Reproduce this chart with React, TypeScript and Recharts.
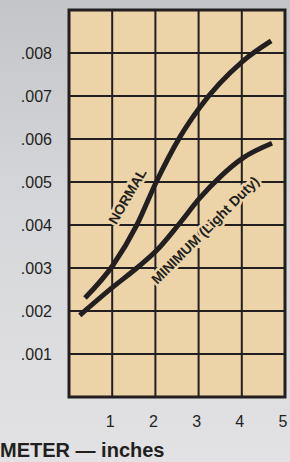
import React from 'react';
import { ComposedChart, Line, XAxis, YAxis, CartesianGrid, ReferenceArea, ReferenceDot } from 'recharts';

const normalX = [0.37, 1.02, 1.57, 2.02, 2.57, 3.03, 4.0, 4.68];
const normalY = [0.0023, 0.00307, 0.004, 0.005, 0.00605, 0.00674, 0.00779, 0.00828];

const minimumX = [0.25, 1.02, 1.57, 2.02, 2.53, 3.03, 3.5, 4.03, 4.7];
const minimumY = [0.0019, 0.00256, 0.003, 0.0034, 0.004, 0.00463, 0.00512, 0.00556, 0.0059];

const xTicks = [0, 1, 2, 3, 4, 5];
const yTicks = [0, 0.001, 0.002, 0.003, 0.004, 0.005, 0.006, 0.007, 0.008, 0.009];

const normal = normalX.map((x, i) => ({ x, y: normalY[i] }));
const minimum = minimumX.map((x, i) => ({ x, y: minimumY[i] }));

const ink = '#231f20';
const tan = '#EDD3A8';
const font = '"Liberation Sans", Arial, sans-serif';

// rotated label with a tan halo so gridlines break around it
const curveLabel = (text: string, angle: number) => (props: any) => {
    const { viewBox } = props;
    const cx = viewBox.x + (viewBox.width || 0) / 2;
    const cy = viewBox.y + (viewBox.height || 0) / 2;
    return (
        <text
            x={cx}
            y={cy}
            transform={`rotate(${angle} ${cx} ${cy})`}
            textAnchor="middle"
            dominantBaseline="central"
            fontFamily={font}
            fontWeight="bold"
            fontSize={14}
            fill={ink}
            stroke={tan}
            strokeWidth={5}
            paintOrder="stroke"
        >
            {text}
        </text>
    );
};

export default function App() {
    return (
        <div
            style={{
                position: 'absolute',
                left: 0,
                top: 0,
                width: 290,
                height: 462,
                background: 'linear-gradient(180deg, #c3c5c9 0%, #d6d7da 45%, #e2e2e4 100%)',
            }}
        >
            <ComposedChart
                width={290}
                height={462}
                margin={{ top: 10, right: 5, left: 0, bottom: 25 }}
            >
                <CartesianGrid fill={tan} fillOpacity={1} stroke={ink} strokeWidth={2} />
                <XAxis
                    type="number"
                    dataKey="x"
                    domain={[0, 5]}
                    ticks={xTicks}
                    allowDataOverflow
                    axisLine={false}
                    tickLine={false}
                    tickSize={0}
                    tickMargin={19}
                    height={40}
                    tickFormatter={(v: number) => (v === 0 ? '' : String(v))}
                    tick={{ fill: ink, fontSize: 16, fontFamily: font, dx: -2 }}
                />
                <YAxis
                    type="number"
                    domain={[0, 0.009]}
                    ticks={yTicks}
                    allowDataOverflow
                    width={69}
                    axisLine={false}
                    tickLine={false}
                    tickSize={0}
                    tickMargin={17}
                    tickFormatter={(v: number) => (v === 0 || v >= 0.009 ? '' : v.toFixed(3).slice(1))}
                    tick={{ fill: ink, fontSize: 16, fontFamily: font }}
                />
                <ReferenceArea x1={0} x2={5} y1={0} y2={0.009} fill="none" stroke={ink} strokeWidth={3} />
                <Line data={normal} dataKey="y" type="monotone" stroke={ink} strokeWidth={5} dot={false} isAnimationActive={false} />
                <Line data={minimum} dataKey="y" type="monotone" stroke={ink} strokeWidth={5} dot={false} isAnimationActive={false} />
                <ReferenceDot x={1.35} y={0.00467} r={0} fill="none" stroke="none" label={curveLabel('NORMAL', -60)} />
                <ReferenceDot x={3.15} y={0.00388} r={0} fill="none" stroke="none" label={curveLabel('MINIMUM (Light Duty)', -45)} />
                <text x={0} y={457} fontFamily={font} fontWeight="bold" fontSize={20} fill={ink}>
                    METER — inches
                </text>
            </ComposedChart>
        </div>
    );
}
